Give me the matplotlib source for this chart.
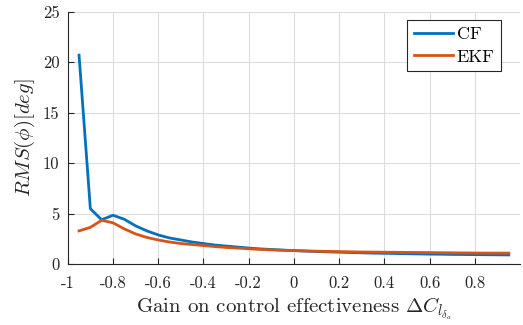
import numpy as np
import matplotlib
matplotlib.use('Agg')
import matplotlib.pyplot as plt

plt.rcParams['font.family'] = 'serif'
plt.rcParams['font.serif'] = ['cmr10']
plt.rcParams['mathtext.fontset'] = 'cm'
plt.rcParams['axes.unicode_minus'] = False

# gain values
gain = [-0.95, -0.9, -0.85, -0.8, -0.75, -0.7, -0.65, -0.6, -0.55, -0.5,
        -0.45, -0.4, -0.35, -0.3, -0.25, -0.2, -0.15, -0.1, -0.05, 0.0,
        0.05, 0.1, 0.15, 0.2, 0.25, 0.3, 0.35, 0.4, 0.45, 0.5,
        0.55, 0.6, 0.65, 0.7, 0.75, 0.8, 0.85, 0.9, 0.95]

# RMS of roll angle [deg]
rms_cf = [20.7, 5.5, 4.4, 4.85, 4.45, 3.8, 3.3, 2.9, 2.6, 2.4,
          2.2, 2.05, 1.9, 1.8, 1.7, 1.6, 1.52, 1.46, 1.4, 1.35,
          1.3, 1.26, 1.22, 1.19, 1.16, 1.13, 1.1, 1.08, 1.06, 1.04,
          1.02, 1.0, 0.99, 0.97, 0.96, 0.95, 0.94, 0.93, 0.92]
rms_ekf = [3.3, 3.65, 4.35, 4.1, 3.5, 3.0, 2.65, 2.4, 2.2, 2.05,
           1.95, 1.85, 1.75, 1.66, 1.6, 1.53, 1.47, 1.42, 1.38, 1.35,
           1.32, 1.29, 1.27, 1.25, 1.23, 1.21, 1.2, 1.19, 1.18, 1.17,
           1.16, 1.15, 1.14, 1.13, 1.12, 1.11, 1.1, 1.1, 1.1]

xticks = [-1, -0.8, -0.6, -0.4, -0.2, 0, 0.2, 0.4, 0.6, 0.8]
xticklabels = ['-1', '-0.8', '-0.6', '-0.4', '-0.2', '0', '0.2', '0.4', '0.6', '0.8']
yticks = [0, 5, 10, 15, 20, 25]

fig = plt.figure(figsize=(5.23, 3.25), dpi=100)
ax = fig.add_axes([0.1295, 0.187, 0.865, 0.777])

ax.plot(gain, rms_cf, color='#0072BD', lw=2, label='CF')
ax.plot(gain, rms_ekf, color='#D95319', lw=2, label='EKF')

ax.set_xlim(-1, 1)
ax.set_ylim(0, 25)
ax.set_xticks(xticks)
ax.set_xticklabels(xticklabels)
ax.set_yticks(yticks)
ax.tick_params(direction='in', length=4, width=0.8, colors='#262626', labelsize=12)
ax.tick_params(axis='x', pad=8)
ax.tick_params(axis='y', pad=6)
ax.grid(True, color='#dcdcdc', lw=0.8)
ax.set_axisbelow(True)
for s in ['top', 'right']:
    ax.spines[s].set_visible(False)
for s in ['left', 'bottom']:
    ax.spines[s].set_color('#262626')
    ax.spines[s].set_linewidth(0.8)

ax.set_xlabel(r'Gain on control effectiveness $\Delta C_{l_{\delta_a}}$', fontsize=15,
              color='#262626', labelpad=3)
ax.set_ylabel(r'$RMS(\phi)[deg]$', fontsize=15, color='#262626', labelpad=4)

leg = ax.legend(loc='upper right', bbox_to_anchor=(0.958, 0.9675), fontsize=13, fancybox=False,
                framealpha=1, edgecolor='#262626', handlelength=2.2, borderpad=0.35,
                labelspacing=0.4, handletextpad=0.2, borderaxespad=0)
leg.get_frame().set_linewidth(0.8)

fig.savefig('out.png', dpi=100)
